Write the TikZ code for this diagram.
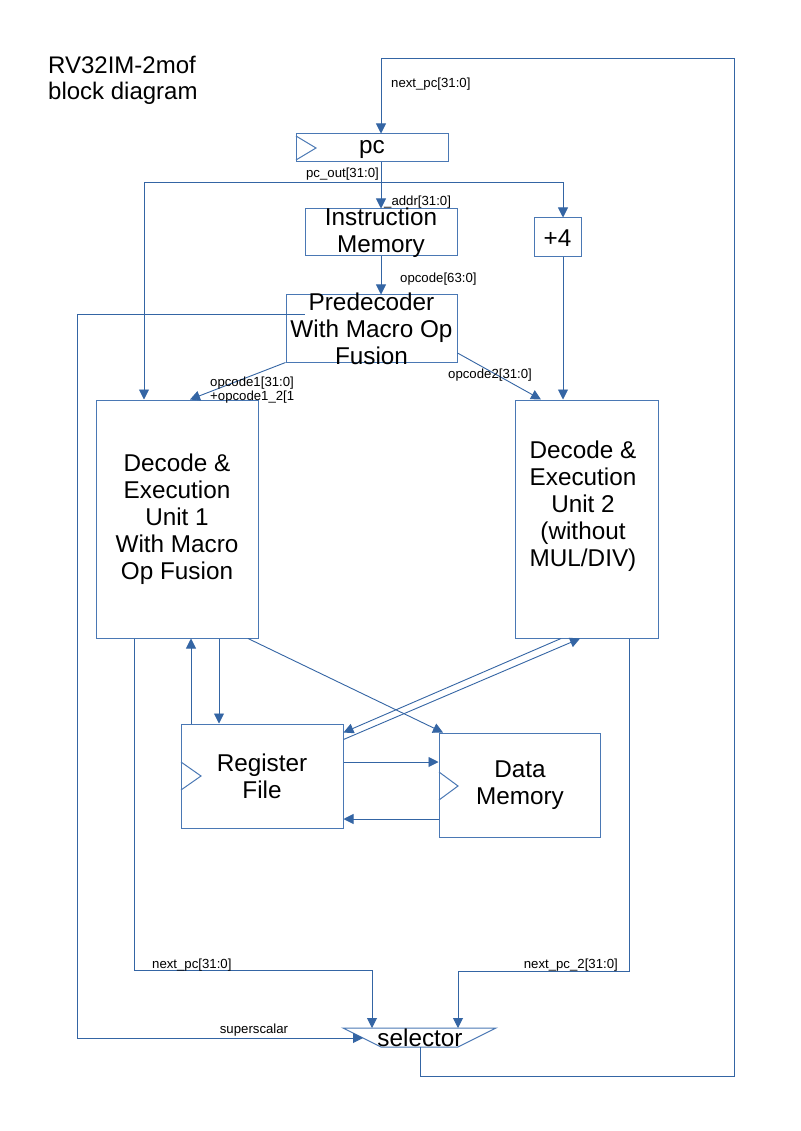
\documentclass[tikz,border=0pt]{standalone}
\usepackage{fontspec}
\setmainfont{Liberation Sans}
\usetikzlibrary{arrows.meta,calc}
\definecolor{ln}{HTML}{3465A4}
\definecolor{bx}{HTML}{4A78B4}
\begin{document}
\begin{tikzpicture}[x=1pt,y=-1pt,
  box/.style={draw=bx,line width=1pt,rectangle,inner sep=0pt,fill=none},
  big/.style={font=\fontsize{24.3}{27}\selectfont,align=center,inner sep=0pt},
  lab/.style={font=\fontsize{13.2}{14}\selectfont,inner sep=0pt},
  arr/.style={draw=ln,line width=0.9pt,-{Triangle[length=10pt,width=10pt]}},
  wire/.style={draw=ln,line width=0.9pt}]
\useasboundingbox (0,0) rectangle (800,1131);
\fill[white] (0,0) rectangle (800,1131);
% title
\node[big,align=left,anchor=west,font=\fontsize{24}{26}\selectfont] (title) at (48,80) {RV32IM-2mof\\block diagram};
% boxes
\node[box,minimum width=152pt,minimum height=28pt] (pc) at (372,148) {};
\node[big] (pct) at (372,149) {pc};
\draw[draw=bx,line width=1pt] (296,136) -- (316,148) -- (296,160);
\node[box,minimum width=152pt,minimum height=47pt] (im) at (381,232.5) {};
\node[big] (imt) at (381,232.5) {Instruction\\Memory};
\node[box,minimum width=47pt,minimum height=39pt] (plus) at (557.5,237.5) {};
\node[big] (plust) at (557.5,238) {+4};
\node[box,minimum width=171pt,minimum height=67pt] (pd) at (371.5,328.5) {};
\node[big] (pdt) at (371.5,329) {Predecoder\\With Macro Op\\Fusion};
\node[box,minimum width=162pt,minimum height=238pt] (deu1) at (177,519) {};
\node[big] (deu1t) at (177,519) {Decode \&\\Execution\\Unit 1\\With Macro\\Op Fusion};
\node[box,minimum width=143pt,minimum height=238pt] (deu2) at (586.5,519) {};
\node[big] (deu2t) at (583,506) {Decode \&\\Execution\\Unit 2\\(without\\MUL/DIV)};
\node[box,minimum width=162pt,minimum height=104pt] (rf) at (262,776) {};
\node[big] (rft) at (262,776.5) {Register\\File};
\draw[draw=bx,line width=1pt] (181,762) -- (201,776) -- (181,790);
\node[box,minimum width=161pt,minimum height=104pt] (dm) at (519.5,785) {};
\node[big] (dmt) at (520,785.5) {Data\\Memory};
\draw[draw=bx,line width=1pt] (439,772) -- (458,786) -- (439,800);
% selector
\coordinate (sa) at (343,1028);
\coordinate (sb2) at (496,1028);
\coordinate (sc) at (458,1047);
\coordinate (sd) at (381,1047);
\draw[draw=bx,line width=1pt] (sa) -- (sb2) -- (sc) -- (sd) -- cycle;
\node[big] (sel) at (420,1038) {selector};
\coordinate (s1) at (372,1028);
\coordinate (s2) at (458,1028);
\coordinate (sl) at (363,1038);
\coordinate (sbot) at (420,1047);
% next_pc loop
\coordinate (br) at (734,1076);
\coordinate (tr) at (734,58);
\draw[arr] (sbot) |- (br) -- (tr) -| (pc.north -| im.north);
\node[lab,anchor=west] (l1) at (391,84) {next\_pc[31:0]};
% pc_out
\coordinate (j1) at (381,182);
\draw[arr] (pc.south -| im.north) -- (im.north);
\draw[arr] (j1) -| ([xshift=-33pt]deu1.north);
\draw[arr] (j1) -| ([xshift=5.5pt]plus.north);
\node[lab,anchor=east] (l2) at (379,174) {pc\_out[31:0]};
\node[lab,anchor=west] (l3) at (384,202) {\_addr[31:0]};
% IM -> PD
\draw[arr] (im.south) -- (pd.north -| im.south);
\node[lab,anchor=west] (l4) at (400,279) {opcode[63:0]};
% PD -> DEU
\draw[arr] (pd.south west) -- ([xshift=13pt]deu1.north);
\node[lab,anchor=west,align=left] (l5) at (210,390) {opcode1[31:0]\\+opcode1\_2[1};
\draw[arr] ([yshift=-24.5pt]pd.east) -- ([xshift=-45.5pt]deu2.north);
\node[lab,anchor=west] (l6) at (448,375) {opcode2[31:0]};
\draw[arr] ([xshift=5.5pt]plus.south) -- ([xshift=5.5pt]plus.south |- deu2.north);
% superscalar
\draw[arr] ([xshift=19pt,yshift=14.5pt]pd.west) -| (77,1038) -- (sl);
\node[lab] (l7) at (254,1030) {superscalar};
% DEU <-> RF/DM
\draw[arr] ([xshift=-71pt]rf.north) -- ([xshift=-71pt]rf.north |- deu1.south);
\draw[arr] ([xshift=42pt]deu1.south) -- ([xshift=42pt]deu1.south |- rf.north);
\draw[arr] ([xshift=71pt]deu1.south) -- ([xshift=-76.5pt]dm.north);
\draw[arr] ([xshift=-25.5pt]deu2.south) -- ([yshift=-9pt]rf.north east);
\draw[arr] ([yshift=-16pt]rf.north east) -- ([xshift=-6.5pt]deu2.south);
\draw[arr] ([yshift=14pt]rf.east) -- ([yshift=14pt]rf.east -| dm.west);
\draw[arr] ([yshift=-43pt]rf.east -| dm.west) -- ([yshift=-43pt]rf.east);
% to selector
\draw[arr] ([xshift=-43pt]deu1.south) -- ++(0,332) -| (s1);
\node[lab,anchor=west] (l8) at (152,965) {next\_pc[31:0]};
\draw[arr] ([xshift=42.5pt]deu2.south) -- ++(0,333) -| (s2);
\node[lab,anchor=east] (l9) at (618,965) {next\_pc\_2[31:0]};
\end{tikzpicture}
\end{document}
